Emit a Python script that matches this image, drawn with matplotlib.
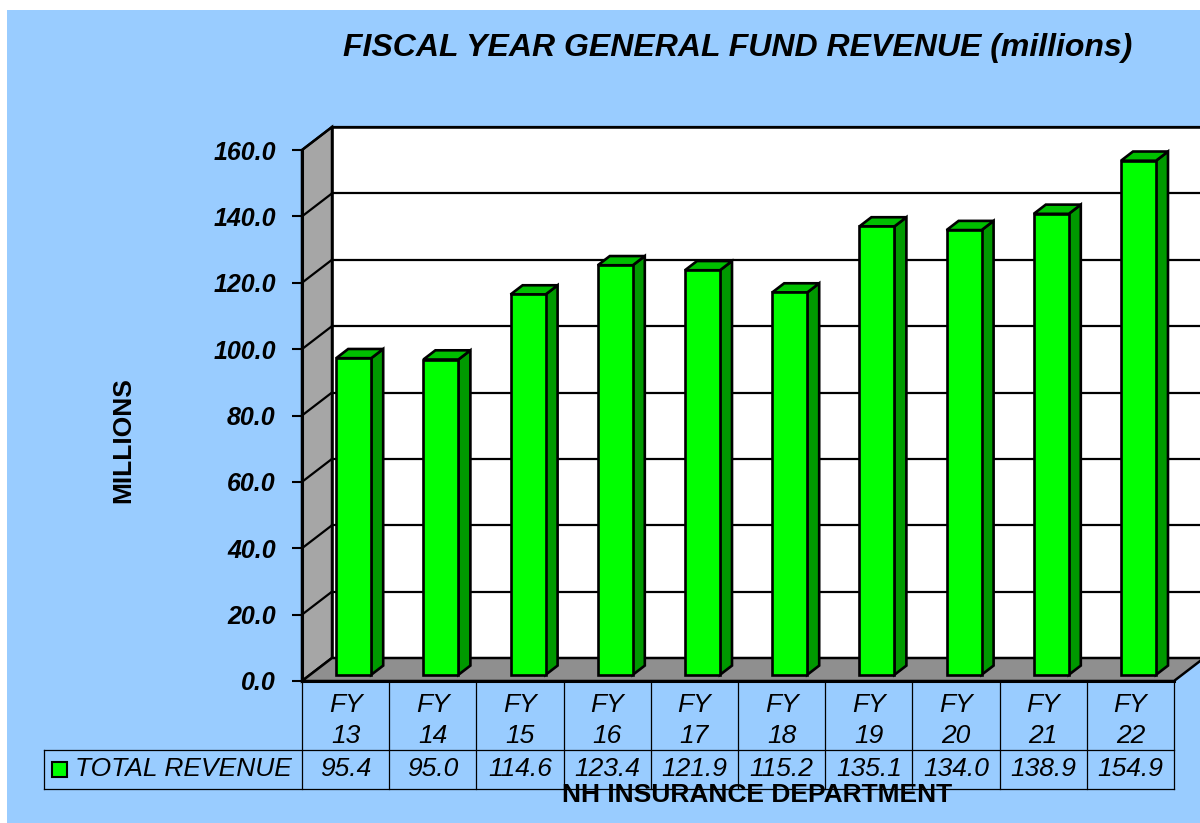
import matplotlib
matplotlib.use("Agg")
import matplotlib.pyplot as plt
from matplotlib.patches import Polygon, Rectangle
from matplotlib.transforms import blended_transform_factory

# ---- data ----
categories = ["FY\n13", "FY\n14", "FY\n15", "FY\n16", "FY\n17", "FY\n18", "FY\n19", "FY\n20", "FY\n21", "FY\n22"]
revenue = [95.4, 95.0, 114.6, 123.4, 121.9, 115.2, 135.1, 134.0, 138.9, 154.9]
series_name = "TOTAL REVENUE"
yticks = [0, 20, 40, 60, 80, 100, 120, 140, 160]
title = "FISCAL YEAR GENERAL FUND REVENUE (millions)"
ylabel = "MILLIONS"
footer = "NH INSURANCE DEPARTMENT"

# ---- style ----
BG = "#99CCFF"
FRONT = "#00FF00"
SIDE = "#009900"
TOP = "#00C000"
WALL_SIDE = "#A6A6A6"
FLOOR = "#8F8F8F"
FONT = "Liberation Sans"
FS = 19

W, H = 1200, 823
fig = plt.figure(figsize=(W / 100, H / 100), dpi=100, facecolor="white")

def fx(px):
    return px / W

def fy(py):
    return 1 - py / H

# blue background
fig.patches.append(Rectangle((fx(7), 0), 1 - fx(7), fy(10), transform=fig.transFigure,
                             facecolor=BG, edgecolor="none", zorder=-10))

# front plane axes
L, R, T, B = 302, 1174, 150, 681
ax = fig.add_axes([fx(L), fy(B), fx(R) - fx(L), fy(T) - fy(B)])
ax.set_zorder(1)
ax.set_xlim(-0.5, len(revenue) - 0.5)
ax.set_ylim(0, 160)
ax.patch.set_visible(False)
for s in ["top", "right", "bottom"]:
    ax.spines[s].set_visible(False)
ax.spines["left"].set_linewidth(2.2)
ax.spines["left"].set_zorder(10)
ax.set_xticks([])
ax.set_yticks(yticks)
ax.set_yticklabels([f"{v:.1f}" for v in yticks], fontfamily=FONT, fontsize=18,
                   fontweight="bold", fontstyle="italic")
ax.tick_params(axis="y", direction="out", length=7, width=1.5, pad=12, color="black")

# depth offsets (data units) for full depth
px_per_cat = (R - L) / len(revenue)
px_per_val = (B - T) / 160
DX = 30 / px_per_cat
DY = 23 / px_per_val
x0, x1 = -0.5, len(revenue) - 0.5

def P(x, y, d):
    return (x + d * DX, y + d * DY)

# back wall
ax.add_patch(Polygon([P(x0, 0, 1), P(x1 + 0.5, 0, 1), P(x1 + 0.5, 160, 1), P(x0, 160, 1)],
                     closed=True, facecolor="white", edgecolor="black", lw=1.8,
                     clip_on=False, zorder=1))
# left side wall
ax.add_patch(Polygon([P(x0, 0, 0), P(x0, 160, 0), P(x0, 160, 1), P(x0, 0, 1)],
                     closed=True, facecolor=WALL_SIDE, edgecolor="black", lw=1.8,
                     clip_on=False, zorder=1))
# floor
ax.add_patch(Polygon([P(x0, 0, 0), P(x1, 0, 0), P(x1, 0, 1), P(x0, 0, 1)],
                     closed=True, facecolor=FLOOR, edgecolor="black", lw=1.8,
                     clip_on=False, zorder=1))
ax.plot([P(x0, 0, 0)[0], P(x1, 0, 0)[0]], [0, 0], color="black", lw=2.2,
        clip_on=False, zorder=3)
# gridlines
for v in yticks[1:]:
    a, b = P(x0, v, 1), P(x1 + 0.5, v, 1)
    ax.plot([a[0], b[0]], [a[1], b[1]], color="black", lw=1.6, clip_on=False, zorder=2)
    c = P(x0, v, 0)
    ax.plot([c[0], a[0]], [c[1], a[1]], color="black", lw=1.6, clip_on=False, zorder=2)

# bars
bw = 35 / px_per_cat
d0, d1 = 0.27, 0.67
for i, v in enumerate(revenue):
    xl, xr = i - bw / 2, i + bw / 2
    front = [P(xl, 0, d0), P(xr, 0, d0), P(xr, v, d0), P(xl, v, d0)]
    side = [P(xr, 0, d0), P(xr, 0, d1), P(xr, v, d1), P(xr, v, d0)]
    top = [P(xl, v, d0), P(xr, v, d0), P(xr, v, d1), P(xl, v, d1)]
    for poly, col in [(side, SIDE), (top, TOP), (front, FRONT)]:
        ax.add_patch(Polygon(poly, closed=True, facecolor=col, edgecolor="black",
                             lw=1.9, joinstyle="miter", clip_on=False, zorder=4))

# ---- data table ----
tr = blended_transform_factory(ax.transData, fig.transFigure)
y_hdr_bot, y_tab_bot = 750, 789
tl_x = -0.5 - (L - 44) / px_per_cat  # left edge of label cell in data units
ax.plot([tl_x, x1], [fy(y_hdr_bot)] * 2, color="black", lw=0.9, transform=tr, clip_on=False)
ax.plot([tl_x, x1], [fy(y_tab_bot)] * 2, color="black", lw=0.9, transform=tr, clip_on=False)
for k in range(len(revenue) + 1):
    xb = k - 0.5
    ax.plot([xb, xb], [fy(B), fy(y_tab_bot)], color="black", lw=0.9, transform=tr, clip_on=False)
ax.plot([tl_x, tl_x], [fy(y_hdr_bot), fy(y_tab_bot)], color="black", lw=0.9,
        transform=tr, clip_on=False)

tkw = dict(fontfamily=FONT, fontsize=FS, fontstyle="italic", ha="center", va="center",
           transform=tr, clip_on=False)
for i, (cat, v) in enumerate(zip(categories, revenue)):
    l1, l2 = cat.split("\n")
    ax.text(i, fy(705), l1, **tkw)
    ax.text(i, fy(736), l2, **tkw)
    ax.text(i, fy(769), f"{v:.1f}", **tkw)

# legend key + series name
key_px = 15
fig.patches.append(Rectangle((fx(52), fy(777)), fx(key_px), key_px / H, transform=fig.transFigure,
                             facecolor=FRONT, edgecolor="black", lw=1.5, zorder=5))
fig.text(fx(75), fy(769), series_name, fontfamily=FONT, fontsize=FS, fontstyle="italic",
         ha="left", va="center")

# titles
fig.text(fx(738), fy(48), title, fontfamily=FONT, fontsize=23, fontweight="bold",
         fontstyle="italic", ha="center", va="center")
fig.text(fx(123), fy(440), ylabel, fontfamily=FONT, fontsize=FS, fontweight="bold",
         rotation=90, ha="center", va="center")
fig.text(fx(757), fy(795), footer, fontfamily=FONT, fontsize=FS, fontweight="bold",
         ha="center", va="center", zorder=6)

fig.savefig("out.png", dpi=100, facecolor="white")
